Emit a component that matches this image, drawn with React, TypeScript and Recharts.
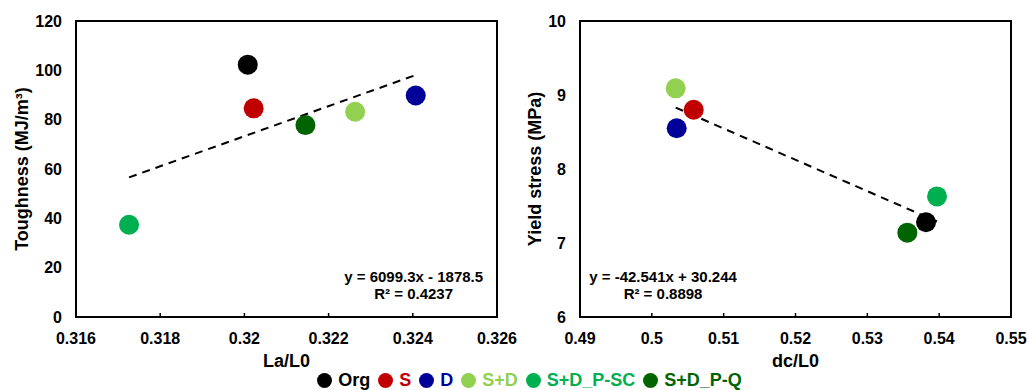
import React from "react";
import {
  ReferenceArea,
  ReferenceDot,
  ReferenceLine,
  Scatter,
  ScatterChart,
  XAxis,
  YAxis,
} from "recharts";

const samples = ["Org", "S", "D", "S+D", "S+D_P-SC", "S+D_P-Q"];
const colors = ["#000000", "#C00000", "#000099", "#92D050", "#00B050", "#006400"];

// left panel: La/L0 vs toughness
const laL0 = [0.32008, 0.32022, 0.32407, 0.32263, 0.31726, 0.32145];
const toughness = [102.3, 84.6, 89.8, 83.2, 37.4, 77.8];
const toughTrend = [
  { x: 0.31726, y: 56.6 },
  { x: 0.32407, y: 98.1 },
];
const laTicks = [0.316, 0.318, 0.32, 0.322, 0.324, 0.326];
const toughTicks = [0, 20, 40, 60, 80, 100, 120];

// right panel: dc/L0 vs yield stress
const dcL0 = [0.53817, 0.50583, 0.50346, 0.50332, 0.5397, 0.53557];
const yieldStress = [7.28, 8.8, 8.55, 9.09, 7.63, 7.14];
const yieldTrend = [
  { x: 0.50332, y: 8.83 },
  { x: 0.5397, y: 7.29 },
];
const dcTicks = [0.49, 0.5, 0.51, 0.52, 0.53, 0.54, 0.55];
const yieldTicks = [6, 7, 8, 9, 10];

const FONT = '"Liberation Sans", Arial, sans-serif';
const TICK_MARGIN = 15;

const XTick = (props: any) => {
  const { x, y, payload } = props;
  const axisY = y - TICK_MARGIN;
  return (
    <g>
      <line x1={x} x2={x} y1={axisY} y2={axisY - 4} stroke="#000" strokeWidth={1.5} />
      <text x={x} y={y + 11.5} textAnchor="middle" fontFamily={FONT} fontWeight="bold" fontSize={16} fill="#000">
        {String(payload.value)}
      </text>
    </g>
  );
};

const yTickStyle = { fontFamily: FONT, fontWeight: "bold", fontSize: 16, fill: "#000" };

const yTitle = (text: string, cx: number) => (props: any) => {
  const vb = props.viewBox;
  const cy = vb.y + vb.height / 2;
  return (
    <text
      x={cx}
      y={cy}
      transform={`rotate(-90 ${cx} ${cy})`}
      textAnchor="middle"
      dominantBaseline="central"
      fontFamily={FONT}
      fontWeight="bold"
      fontSize={18}
      fill="#000"
    >
      {text}
    </text>
  );
};

const xTitle = (text: string) => (props: any) => {
  const vb = props.viewBox;
  return (
    <text
      x={vb.x + vb.width / 2}
      y={vb.y + 50}
      textAnchor="middle"
      fontFamily={FONT}
      fontWeight="bold"
      fontSize={18}
      fill="#000"
    >
      {text}
    </text>
  );
};

const equation = (line1: string, line2: string) => (props: any) => {
  const vb = props.viewBox;
  const cx = vb.x + vb.width / 2;
  const cy = vb.y + vb.height / 2;
  return (
    <g fontFamily={FONT} fontWeight="bold" fontSize={15} fill="#000">
      <text x={cx} y={cy} textAnchor="middle">{line1}</text>
      <text x={cx} y={cy + 17} textAnchor="middle">{line2}</text>
    </g>
  );
};

const dot = (color: string) => (props: any) => (
  <circle cx={props.cx} cy={props.cy} r={10} fill={color} />
);

function Panel({
  xs,
  ys,
  trend,
  xTicks,
  yTicks,
  xLabel,
  yLabel,
  yLabelX,
  yAxisWidth,
  width,
  marginRight,
  eq,
}: {
  xs: number[];
  ys: number[];
  trend: { x: number; y: number }[];
  xTicks: number[];
  yTicks: number[];
  xLabel: string;
  yLabel: string;
  yLabelX: number;
  yAxisWidth: number;
  width: number;
  marginRight: number;
  eq: { x: number; y: number; l1: string; l2: string };
}) {
  const xMin = xTicks[0];
  const xMax = xTicks[xTicks.length - 1];
  const yMin = yTicks[0];
  const yMax = yTicks[yTicks.length - 1];
  return (
    <ScatterChart
      width={width}
      height={390}
      margin={{ top: 21, right: marginRight, bottom: 13, left: 0 }}
      style={{ overflow: "visible" }}
    >
      <XAxis
        type="number"
        dataKey="x"
        domain={[xMin, xMax]}
        ticks={xTicks}
        allowDataOverflow
        height={60}
        axisLine={{ stroke: "#000", strokeWidth: 2 }}
        tickLine={false}
        tickSize={0}
        tickMargin={TICK_MARGIN}
        tick={<XTick />}
        interval={0}
        label={{ content: xTitle(xLabel) }}
      />
      <YAxis
        type="number"
        dataKey="y"
        domain={[yMin, yMax]}
        ticks={yTicks}
        allowDataOverflow
        width={yAxisWidth}
        axisLine={{ stroke: "#000", strokeWidth: 2 }}
        tickLine={false}
        tickSize={0}
        tickMargin={14}
        tick={yTickStyle}
        interval={0}
        label={{ content: yTitle(yLabel, yLabelX) }}
      />
      <ReferenceArea x1={xMin} x2={xMax} y1={yMin} y2={yMax} fill="none" fillOpacity={0} stroke="#000" strokeWidth={2} />
      <ReferenceLine
        segment={trend}
        stroke="#000"
        strokeWidth={2}
        strokeDasharray="8 6"
      />
      {samples.map((name, i) => (
        <Scatter
          key={name}
          name={name}
          data={[{ x: xs[i], y: ys[i] }]}
          fill={colors[i]}
          shape={dot(colors[i])}
          isAnimationActive={false}
        />
      ))}
      <ReferenceDot x={eq.x} y={eq.y} r={0} fill="none" stroke="none" label={{ content: equation(eq.l1, eq.l2) }} />
    </ScatterChart>
  );
}

function LegendRow() {
  return (
    <div
      style={{
        position: "absolute",
        left: 0,
        top: 370,
        width: 1067,
        display: "flex",
        justifyContent: "center",
        alignItems: "center",
        fontFamily: FONT,
        fontWeight: "bold",
        fontSize: 18,
        lineHeight: "20px",
      }}
    >
      {samples.map((name, i) => (
        <div key={name} style={{ display: "flex", alignItems: "center", marginRight: 8 }}>
          <span
            style={{
              display: "inline-block",
              width: 15,
              height: 15,
              borderRadius: "50%",
              background: colors[i],
              marginRight: 6,
            }}
          />
          <span style={{ color: colors[i] }}>{name}</span>
        </div>
      ))}
    </div>
  );
}

export default function App() {
  return (
    <div style={{ position: "absolute", left: 0, top: 0, width: 1027, height: 390, background: "#fff", overflow: "hidden" }}>
      <div style={{ position: "absolute", left: 0, top: 0 }}>
        <Panel
          xs={laL0}
          ys={toughness}
          trend={toughTrend}
          xTicks={laTicks}
          yTicks={toughTicks}
          xLabel="La/L0"
          yLabel="Toughness (MJ/m³)"
          yLabelX={22}
          yAxisWidth={76}
          width={530}
          marginRight={33}
          eq={{ x: 0.32402, y: 14.1, l1: "y = 6099.3x - 1878.5", l2: "R² = 0.4237" }}
        />
      </div>
      <div style={{ position: "absolute", left: 510, top: 0 }}>
        <Panel
          xs={dcL0}
          ys={yieldStress}
          trend={yieldTrend}
          xTicks={dcTicks}
          yTicks={yieldTicks}
          xLabel="dc/L0"
          yLabel="Yield stress (MPa)"
          yLabelX={25}
          yAxisWidth={70}
          width={517}
          marginRight={16}
          eq={{ x: 0.50156, y: 6.47, l1: "y = -42.541x + 30.244", l2: "R² = 0.8898" }}
        />
      </div>
      <LegendRow />
    </div>
  );
}
